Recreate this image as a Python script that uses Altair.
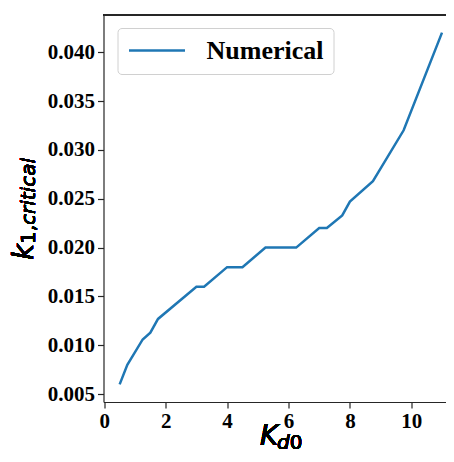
import altair as alt
import pandas as pd

kd0 = [0.5, 0.75, 1.25, 1.5, 1.75, 3.0, 3.25, 4.0, 4.5, 5.25, 6.25, 7.0, 7.25, 7.75, 8.0, 8.75, 9.75, 11.0]
k1crit = [0.0060, 0.0080, 0.0106, 0.0113, 0.0127, 0.0160, 0.0160, 0.0180, 0.0180, 0.0200,
          0.0200, 0.0220, 0.0220, 0.0233, 0.0247, 0.0268, 0.0320, 0.0420]
series = ["Numerical"] * len(kd0)
x_ticks = [0, 2, 4, 6, 8, 10]
y_ticks = [0.005, 0.010, 0.015, 0.020, 0.025, 0.030, 0.035, 0.040]

df = pd.DataFrame({"kd0": kd0, "k1": k1crit, "series": series})

W, H = 342.5, 387
SPINE = "#262626"

line = alt.Chart(df).mark_line(strokeWidth=2.5, clip=True).encode(
    x=alt.X("kd0:Q", scale=alt.Scale(domain=[-0.026, 11.13], nice=False, zero=False),
            axis=alt.Axis(values=x_ticks, format="d", title=None, grid=False,
                          tickSize=6, tickColor=SPINE, tickWidth=1.2,
                          domainColor=SPINE, domainWidth=1.2,
                          labelFont="Liberation Serif", labelFontWeight="bold",
                          labelFontSize=21, labelColor="black", labelPadding=2,
                          labelFlush=False)),
    y=alt.Y("k1:Q", scale=alt.Scale(domain=[0.0042, 0.0438], nice=False, zero=False),
            axis=alt.Axis(values=y_ticks, format=".3f", title=None, grid=False,
                          tickSize=6, tickColor=SPINE, tickWidth=1.2,
                          domainColor=SPINE, domainWidth=1.2,
                          labelFont="Liberation Serif", labelFontWeight="bold",
                          labelFontSize=21, labelColor="black", labelPadding=3,
                          labelFlush=False)),
    color=alt.Color("series:N", scale=alt.Scale(range=["#1f77b4"]),
                    legend=alt.Legend(orient="none", legendX=14, legendY=13, title=None,
                                      symbolType="stroke", symbolStrokeWidth=2.5,
                                      symbolSize=3136, labelOffset=20, clipHeight=25,
                                      labelFont="Liberation Serif", labelFontWeight="bold",
                                      labelFontSize=26, labelColor="black",
                                      strokeColor="#d0d0d0", fillColor="white",
                                      cornerRadius=4, padding=10)),
)

top_spine = alt.Chart(df).mark_rule(color=SPINE, strokeWidth=1.2).encode(
    x=alt.value(0), x2=alt.value(W), y=alt.value(0)
)

def label(text, x, y, size, style="normal", angle=0):
    return alt.Chart(df).mark_text(text=text, font="DejaVu Sans", fontSize=size,
                                   fontStyle=style, align="left", baseline="alphabetic",
                                   angle=angle, color="black").encode(
        x=alt.value(x), y=alt.value(y))

x_title = [
    label("K", 156.5, 430, 28, "italic"),
    label("d", 173.5, 434, 20, "italic"),
    label("0", 186.2, 434, 20),
]
y_title = [
    label("k", -71, 245, 28, "italic", 270),
    label("1,", -68.5, 229, 20, "normal", 270),
    label("critical", -68.5, 210, 20, "italic", 270),
]

chart = alt.layer(line, top_spine, *x_title, *y_title).properties(
    width=W, height=H,
    autosize=alt.AutoSizeParams(type="none"),
    padding={"left": 95.5, "top": 7, "right": 0, "bottom": 52},
).configure_view(stroke=None)

chart.save("out.html", embed_options={"renderer": "svg", "actions": False})
